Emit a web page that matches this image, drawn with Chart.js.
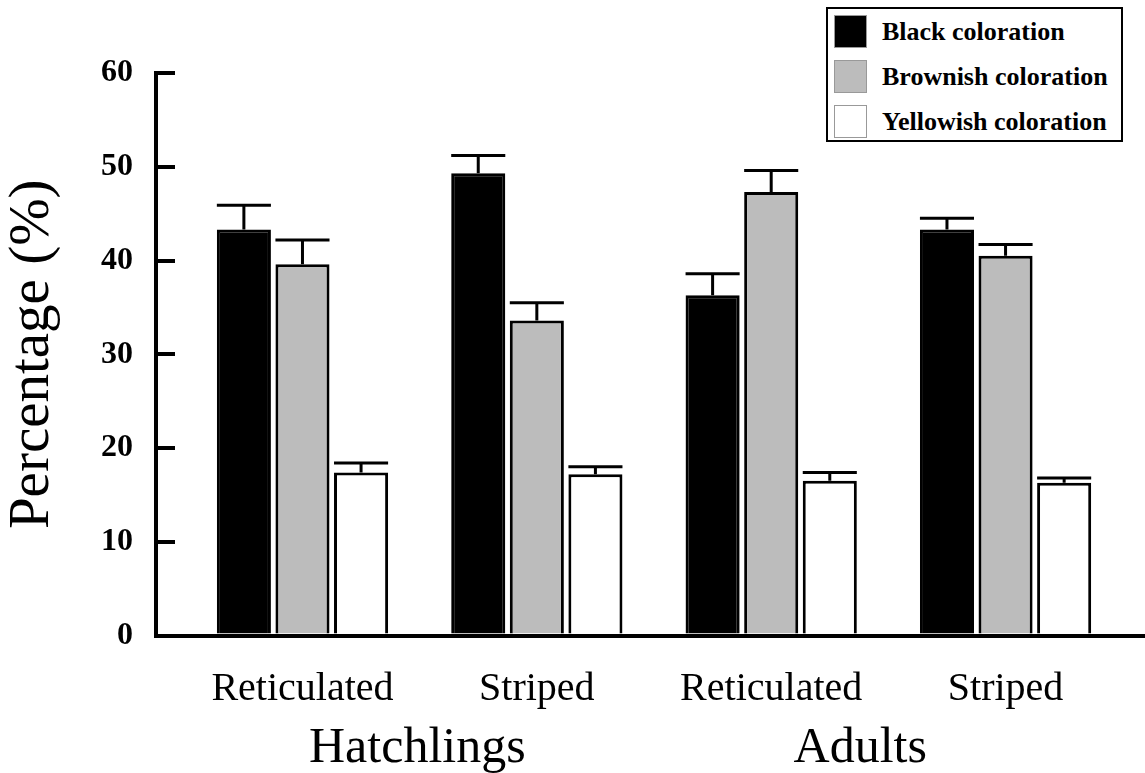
<!DOCTYPE html>
<html>
<head>
<meta charset="utf-8">
<title>Coloration by pattern</title>
<script src="https://cdn.jsdelivr.net/npm/chart.js@4.4.0/dist/chart.umd.min.js"></script>
<style>
html, body { margin:0; padding:0; background:#fff; }
#wrap { position:relative; width:1145px; height:773px; }
#legend { position:absolute; left:826px; top:7px; width:297px; height:135px; box-sizing:border-box;
  border:2px solid #000; background:#fff; font-family:'Liberation Serif','Times New Roman',Times,serif;
  font-weight:bold; font-size:26px; color:#000; }
#legend .row { position:absolute; left:6px; height:33px; }
#legend .box { position:absolute; left:0; top:0; width:33px; height:33px; box-sizing:border-box; border:1px solid #999; }
#legend .txt { position:absolute; left:48px; top:0; line-height:33px; white-space:nowrap; }
</style>
</head>
<body>
<div id="wrap">
  <canvas id="chart" width="1145" height="773"></canvas>
  <div id="legend"></div>
</div>
<script>
// values (percent), upper error bars only
var groupLabels = ['Reticulated', 'Striped', 'Reticulated', 'Striped'];
var stageLabels = ['Hatchlings', 'Adults'];
var seriesLabels = ['Black coloration', 'Brownish coloration', 'Yellowish coloration'];
var blackValues  = [43.3, 49.3, 36.3, 43.3];
var blackErrors  = [2.6, 1.9, 2.3, 1.2];
var brownValues  = [39.6, 33.6, 47.3, 40.5];
var brownErrors  = [2.6, 1.9, 2.3, 1.2];
var yellowValues = [17.4, 17.2, 16.5, 16.3];
var yellowErrors = [1.0, 0.8, 0.9, 0.5];

var colorChart = (function () {
  'use strict';
  var
  configMap = {
    serif : "'Liberation Serif', 'Times New Roman', Times, serif",
    fills : ['#000000', '#bcbcbc', '#ffffff']
  },
  stateMap = { chart : undefined },
  toPoints, errorBarPlugin, buildLegend, initModule;

  toPoints = function (values) {
    return values.map(function (v, i) { return { x : i + 1, y : v }; });
  };

  // whiskers + caps on top of each bar
  errorBarPlugin = {
    id : 'errorBars',
    afterDatasetsDraw : function (chart) {
      var ctx = chart.ctx, yScale = chart.scales.y;
      ctx.save();
      ctx.strokeStyle = '#000';
      ctx.lineWidth = 3;
      chart.data.datasets.forEach(function (ds, d) {
        var meta = chart.getDatasetMeta(d);
        meta.data.forEach(function (bar, i) {
          var top = yScale.getPixelForValue(ds.data[i].y + ds.errors[i]);
          ctx.beginPath();
          ctx.moveTo(bar.x, bar.y);
          ctx.lineTo(bar.x, top);
          ctx.moveTo(bar.x - bar.width / 2, top);
          ctx.lineTo(bar.x + bar.width / 2, top);
          ctx.stroke();
        });
      });
      ctx.restore();
    }
  };

  buildLegend = function (chart) {
    var html = '';
    chart.data.datasets.forEach(function (ds, i) {
      html += '<div class="row" style="top:' + (6 + i * 45) + 'px">'
        + '<span class="box" style="background:' + ds.backgroundColor + '"></span>'
        + '<span class="txt">' + ds.label + '</span></div>';
    });
    document.getElementById('legend').innerHTML = html;
  };

  initModule = function (canvas) {
    var serif = configMap.serif;
    var makeSet = function (i, values, errors) {
      return {
        label : seriesLabels[i],
        data : toPoints(values),
        errors : errors,
        backgroundColor : configMap.fills[i],
        borderColor : '#000',
        borderWidth : 3
      };
    };

    stateMap.chart = new Chart(canvas.getContext('2d'), {
      type : 'bar',
      data : {
        datasets : [
          makeSet(0, blackValues, blackErrors),
          makeSet(1, brownValues, brownErrors),
          makeSet(2, yellowValues, yellowErrors)
        ]
      },
      options : {
        responsive : false,
        animation : false,
        devicePixelRatio : 1,
        categoryPercentage : 0.75,
        barPercentage : 0.923,
        layout : { padding : { top : 73, left : 0, right : 0, bottom : 0 } },
        plugins : { legend : { display : false }, tooltip : { enabled : false } },
        scales : {
          x : {
            type : 'linear', position : 'bottom', min : 0.375, max : 4.595, offset : false,
            grid : { display : false, drawTicks : false },
            border : { display : true, color : '#000', width : 4 },
            afterBuildTicks : function (scale) {
              scale.ticks = groupLabels.map(function (l, i) { return { value : i + 1 }; });
            },
            afterFit : function (scale) { scale.height = 80; },
            ticks : {
              autoSkip : false, maxRotation : 0, minRotation : 0, padding : 30, color : '#000',
              font : { family : serif, size : 40 },
              callback : function (v, i) { return groupLabels[i]; }
            }
          },
          x2 : {
            type : 'linear', position : 'bottom', min : 0.375, max : 4.595, offset : false,
            grid : { display : false, drawTicks : false },
            border : { display : false },
            afterBuildTicks : function (scale) {
              scale.ticks = [{ value : 1.49 }, { value : 3.38 }];
            },
            afterFit : function (scale) { scale.height = 57.5; },
            ticks : {
              autoSkip : false, maxRotation : 0, minRotation : 0, padding : 3, color : '#000',
              font : { family : serif, size : 50 },
              callback : function (v, i) { return stageLabels[i]; }
            }
          },
          y : {
            min : 0, max : 60,
            grid : { display : true, drawOnChartArea : false, drawTicks : true, tickLength : -19, lineWidth : 4, color : '#000' },
            border : { display : true, color : '#000', width : 4 },
            ticks : { stepSize : 10, padding : 42, color : '#000', font : { family : serif, size : 32, weight : 'bold' } },
            title : {
              display : true, text : 'Percentage (%)', color : '#000',
              font : { family : serif, size : 57, lineHeight : 1 },
              padding : { top : 5, bottom : 0 }
            },
            afterFit : function (scale) { scale.width = 156; }
          }
        }
      },
      plugins : [errorBarPlugin]
    });

    buildLegend(stateMap.chart);
  };

  return { initModule : initModule };
}());

colorChart.initModule(document.getElementById('chart'));
</script>
</body>
</html>
